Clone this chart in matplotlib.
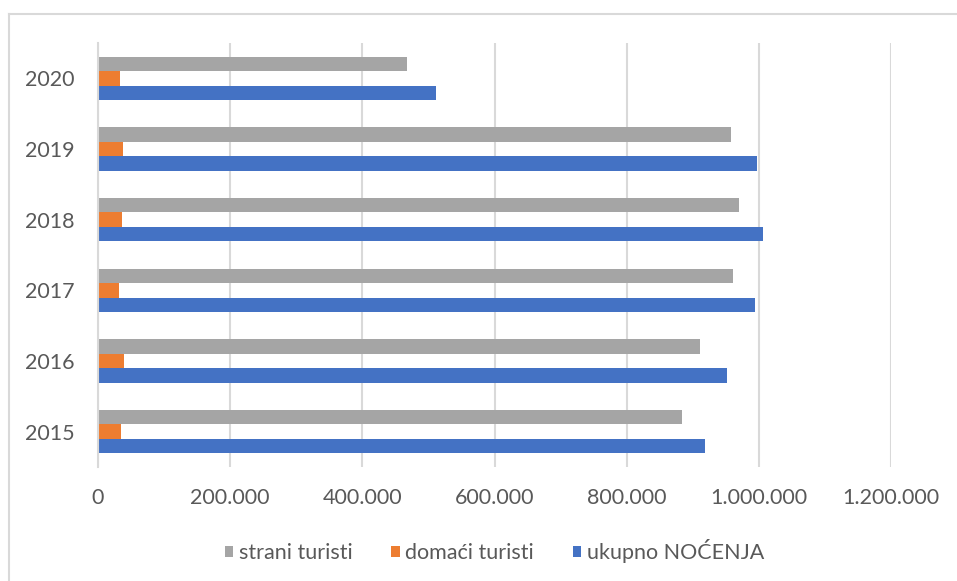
import matplotlib.pyplot as plt
import numpy as np
from matplotlib.lines import Line2D
from matplotlib.ticker import FuncFormatter

years = ["2015", "2016", "2017", "2018", "2019", "2020"]
strani = [883300, 911500, 960500, 970500, 958400, 467600]
domaci = [34200, 39300, 32300, 35800, 37300, 33800]
ukupno = [918600, 951900, 993800, 1006800, 996800, 512000]

labels = ["strani turisti", "domaći turisti", "ukupno NOĆENJA"]
colors = ["#A5A5A5", "#ED7D31", "#4472C4"]

plt.rcParams['font.family'] = ['Lato', 'DejaVu Sans']
text_color = "#595959"

fig = plt.figure(figsize=(9.57, 5.81), dpi=100)
ax = fig.add_axes([98 / 957, 1 - 467 / 581, 793 / 957, 424 / 581])

y = np.arange(len(years))
h = 0.203
ax.barh(y + h, strani, height=h, color=colors[0], label=labels[0])
ax.barh(y, domaci, height=h, color=colors[1], label=labels[1])
ax.barh(y - h, ukupno, height=h, color=colors[2], label=labels[2])

ax.set_xlim(0, 1200000)
ax.set_ylim(-0.5, len(years) - 0.5)
ax.set_xticks(np.arange(0, 1200001, 200000))
ax.xaxis.set_major_formatter(FuncFormatter(lambda v, p: f"{int(v):,}".replace(",", ".")))
ax.set_yticks(y)
ax.set_yticklabels(years)

ax.grid(axis='x', color="#D9D9D9", linewidth=1.5)
ax.set_axisbelow(True)
for s in ["top", "right", "bottom"]:
    ax.spines[s].set_visible(False)
ax.spines["left"].set_color("#D9D9D9")
ax.spines["left"].set_linewidth(1.5)
ax.tick_params(axis='y', length=0, labelsize=15.5, colors=text_color, pad=17)
ax.tick_params(axis='x', length=0, labelsize=15.5, colors=text_color, pad=15)

leg = fig.legend(loc="center", bbox_to_anchor=(494.5 / 957, 1 - 551 / 581), ncol=3,
                 frameon=False, fontsize=15.5, handlelength=0.4, handleheight=0.4,
                 handletextpad=0.25, columnspacing=1.8)
for t in leg.get_texts():
    t.set_color(text_color)

# outer chart border (top and left visible)
fig.add_artist(Line2D([9 / 957, 1], [1 - 14 / 581] * 2, color="#D9D9D9", lw=1.5))
fig.add_artist(Line2D([9 / 957] * 2, [0, 1 - 14 / 581], color="#D9D9D9", lw=1.5))

fig.savefig("out.png", dpi=100)
